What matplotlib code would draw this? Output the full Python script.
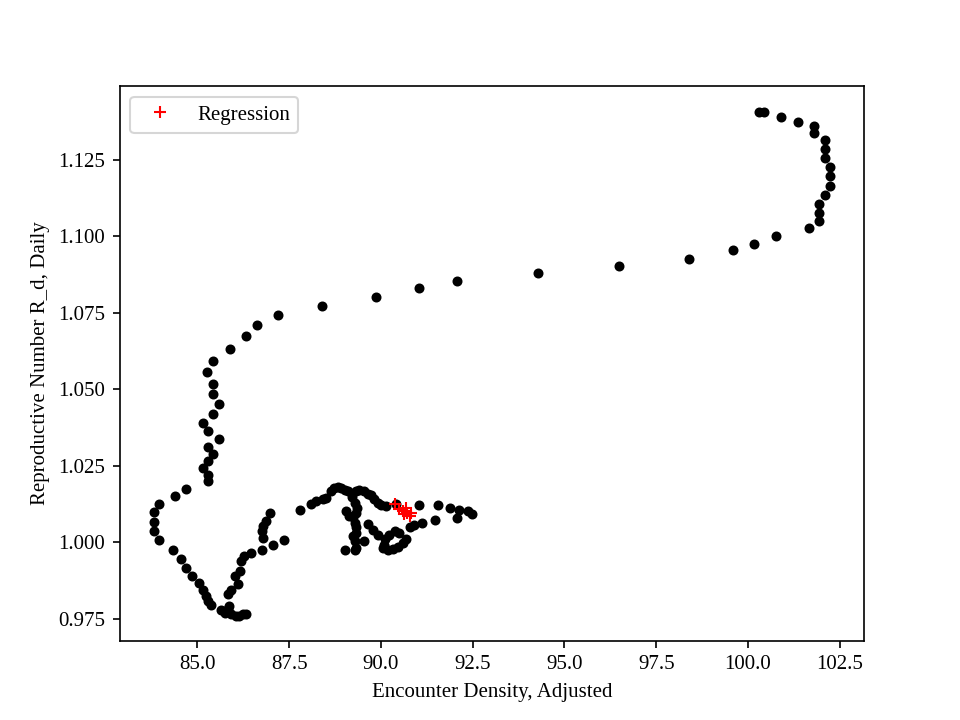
import numpy as np
import matplotlib
matplotlib.use("Agg")
import matplotlib.pyplot as plt

plt.rcParams['font.family'] = ['Liberation Serif', 'DejaVu Serif']

# trajectory of (density, R_d)
dens = [100.31, 100.45, 100.89, 101.36, 101.81, 101.81, 102.10, 102.10, 102.10, 102.24,
        102.24, 102.24, 102.10, 101.93, 101.93, 101.93, 101.66, 100.77, 100.16, 99.59,
        98.39, 96.48, 94.27, 92.07, 91.03, 89.87, 88.40, 87.19, 86.63, 86.33,
        85.89, 85.42, 85.27, 85.42, 85.42, 85.58, 85.42, 85.14, 85.28, 85.58,
        85.28, 85.42, 85.28, 85.14, 85.28, 85.28, 84.68, 84.38, 83.95, 83.81,
        83.81, 83.81, 83.95, 84.33, 84.54, 84.69, 84.84, 85.05, 85.14, 85.23,
        85.29, 85.36, 85.65, 85.74, 85.83, 85.87, 85.92, 86.05, 86.14, 86.25,
        86.33, 85.83, 85.91, 86.02, 86.11, 86.17, 86.19, 86.26, 86.46, 86.76,
        87.05, 87.35, 86.78, 86.76, 86.78, 86.87, 86.98, 87.78, 88.10, 88.22,
        88.41, 88.51, 88.64, 88.73, 88.82, 88.92, 89.01, 89.10, 89.32, 89.41,
        89.55, 89.64, 89.73, 89.82, 89.91, 90.01, 89.28, 89.31, 89.28, 89.31,
        89.28, 89.32, 89.28, 89.05, 89.14, 89.01, 89.55, 89.64, 89.78, 89.91,
        89.22, 89.36, 89.25, 89.33, 89.25, 90.05, 90.19, 90.32, 90.46, 90.59,
        90.67, 90.50, 90.37, 90.23, 90.10, 90.07, 90.78, 90.91, 91.12, 91.46,
        90.14, 90.40, 91.03, 91.55, 91.89, 92.12, 92.07, 92.37, 92.49]
rd = [1.1408, 1.1406, 1.1391, 1.1375, 1.1360, 1.1337, 1.1314, 1.1287, 1.1257, 1.1228,
      1.1199, 1.1164, 1.1135, 1.1107, 1.1077, 1.1050, 1.1026, 1.1000, 1.0976, 1.0957,
      1.0927, 1.0905, 1.0881, 1.0855, 1.0832, 1.0803, 1.0773, 1.0743, 1.0711, 1.0676,
      1.0633, 1.0593, 1.0558, 1.0519, 1.0486, 1.0453, 1.0421, 1.0392, 1.0363, 1.0337,
      1.0313, 1.0290, 1.0267, 1.0244, 1.0222, 1.0202, 1.0175, 1.0153, 1.0126, 1.0098,
      1.0068, 1.0038, 1.0008, 0.9975, 0.9947, 0.9917, 0.9890, 0.9868, 0.9845, 0.9825,
      0.9808, 0.9795, 0.9778, 0.9771, 0.9783, 0.9792, 0.9765, 0.9761, 0.9761, 0.9765,
      0.9765, 0.9830, 0.9846, 0.9889, 0.9864, 0.9908, 0.9939, 0.9955, 0.9964, 0.9977,
      0.9993, 1.0007, 1.0015, 1.0037, 1.0053, 1.0070, 1.0095, 1.0106, 1.0126, 1.0134,
      1.0141, 1.0146, 1.0168, 1.0179, 1.0182, 1.0179, 1.0173, 1.0168, 1.0168, 1.0171,
      1.0168, 1.0160, 1.0154, 1.0143, 1.0130, 1.0121, 1.0130, 1.0097, 1.0064, 1.0032,
      1.0004, 0.9983, 0.9977, 1.0102, 1.0086, 0.9977, 1.0004, 1.0059, 1.0042, 1.0026,
      1.0150, 1.0114, 1.0082, 1.0049, 1.0020, 0.9983, 0.9977, 0.9979, 0.9985, 0.9997,
      1.0010, 1.0032, 1.0039, 1.0026, 1.0010, 0.9993, 1.0051, 1.0057, 1.0062, 1.0072,
      1.0119, 1.0126, 1.0124, 1.0121, 1.0113, 1.0106, 1.0081, 1.0102, 1.0092]

# regression points
reg_x = [90.37, 90.50, 90.59, 90.64, 90.70, 90.78, 90.82, 90.67]
reg_y = [1.0127, 1.0108, 1.0102, 1.0092, 1.0097, 1.0086, 1.0097, 1.0113]

fig = plt.figure(figsize=(6.4, 4.8), dpi=150)
plt.plot(dens, rd, 'o', color='black', markersize=3.8)
plt.plot(reg_x, reg_y, '+', color='red', label='Regression')
plt.xlabel('Encounter Density, Adjusted')
plt.ylabel('Reproductive Number R_d, Daily')
plt.legend(loc='upper left')
plt.savefig('out.png')
